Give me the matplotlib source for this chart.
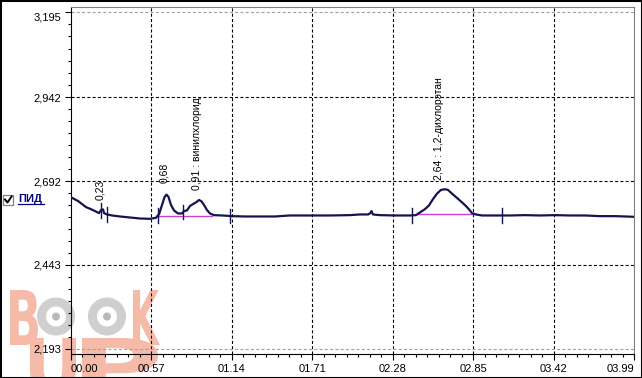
import numpy as np
import matplotlib
matplotlib.use("Agg")
import matplotlib.pyplot as plt
from matplotlib.patches import Rectangle, Circle, Wedge, PathPatch
from matplotlib.lines import Line2D
from matplotlib.textpath import TextPath
from matplotlib.font_manager import FontProperties
from matplotlib.transforms import Affine2D


W, H = 642, 378

# chromatogram trace (time in min.sec, detector signal)
time_min = [
    0.000, 0.050, 0.106, 0.156, 0.198, 0.213, 0.227, 0.234, 0.255, 0.291,
    0.347, 0.418, 0.489, 0.560, 0.602, 0.624, 0.645, 0.663, 0.677, 0.691,
    0.709, 0.730, 0.758, 0.787, 0.801, 0.822, 0.843, 0.865, 0.886, 0.907,
    0.925, 0.943, 0.964, 0.985, 1.013, 1.070, 1.141, 1.233, 1.339, 1.446,
    1.552, 1.694, 1.836, 1.977, 2.048, 2.105, 2.119, 2.130, 2.140, 2.190,
    2.296, 2.403, 2.445, 2.473, 2.509, 2.537, 2.566, 2.594, 2.622, 2.651,
    2.672, 2.700, 2.736, 2.771, 2.799, 2.821, 2.842, 2.870, 2.913, 3.005,
    3.111, 3.217, 3.324, 3.430, 3.536, 3.643, 3.749, 3.855, 3.926, 3.990,
]
signal = [
    2.644, 2.633, 2.615, 2.606, 2.597, 2.606, 2.608, 2.597, 2.593, 2.590,
    2.587, 2.584, 2.581, 2.580, 2.583, 2.594, 2.621, 2.645, 2.652, 2.645,
    2.621, 2.605, 2.596, 2.596, 2.603, 2.605, 2.618, 2.624, 2.629, 2.636,
    2.632, 2.621, 2.606, 2.596, 2.591, 2.590, 2.588, 2.587, 2.587, 2.587,
    2.590, 2.590, 2.590, 2.591, 2.593, 2.593, 2.596, 2.603, 2.593, 2.591,
    2.590, 2.590, 2.591, 2.599, 2.609, 2.620, 2.639, 2.655, 2.666, 2.668,
    2.666, 2.655, 2.642, 2.629, 2.618, 2.608, 2.597, 2.593, 2.590, 2.590,
    2.590, 2.591, 2.590, 2.591, 2.590, 2.590, 2.588, 2.588, 2.587, 2.586,
]

x_ticks = [0.0, 0.57, 1.14, 1.71, 2.28, 2.85, 3.42, 3.99]
x_tick_labels = ["00.00", "00.57", "01.14", "01.71", "02.28", "02.85", "03.42", "03.99"]
y_ticks = [2.193, 2.443, 2.692, 2.942, 3.195]
y_tick_labels = ["2,193", "2,443", "2,692", "2,942", "3,195"]

# integration events and peak baselines
event_times = [0.210, 0.253, 0.614, 0.796, 1.127, 2.419, 3.051]
base_t0 = [0.617, 2.459]
base_t1 = [0.999, 2.856]
base_y0 = [2.588, 2.593]
base_y1 = [2.588, 2.593]

peak_labels = ["0,23", "0,68", "0,91 : винилхлорид", "2,64 : 1,2-дихлорэтан"]
peak_label_t = [0.206, 0.661, 0.891, 2.610]
peak_label_y = [2.636, 2.686, 2.666, 2.695]

TRACE = "#141452"
plt.rcParams["font.family"] = ["Liberation Sans", "DejaVu Sans"]
plt.rcParams["lines.scale_dashes"] = False


def minor_between(ticks, n):
    return np.concatenate([np.linspace(a, b, n + 1)[1:-1] for a, b in zip(ticks[:-1], ticks[1:])])


fig = plt.figure(figsize=(W / 100, H / 100), dpi=100, facecolor="white")
pix = Affine2D().scale(1 / W, 1 / H) + fig.transFigure

ax = fig.add_axes([71 / W, 1 - 354 / H, (634 - 71) / W, (354 - 7) / H])
ax.set_facecolor("none")
ax.set_xlim(0, 3.99)
ax.set_ylim(2.178, 3.210)

# grid
for t in x_ticks[1:-1]:
    ax.axvline(t, color="black", lw=0.8, ls=(0, (2.2, 1.6)), zorder=1)
for v in y_ticks:
    edge = v in (y_ticks[0], y_ticks[-1])
    ax.axhline(v, color="#a0a0a0" if edge else "black", lw=0.8,
               ls=(0, (2.2, 1.6)), zorder=1)

ax.plot(time_min, signal, color=TRACE, lw=1.6, solid_joinstyle="round", zorder=3)
for t0, t1, y0, y1 in zip(base_t0, base_t1, base_y0, base_y1):
    ax.plot([t0, t1], [y0, y1], color="#d040d0", lw=1.0, zorder=2)
for t in event_times:
    yc = np.interp(t, time_min, signal)
    ax.plot([t, t], [yc - 0.022, yc + 0.022], color=TRACE, lw=1.0, zorder=4)

for s, t, y in zip(peak_labels, peak_label_t, peak_label_y):
    ax.text(t, y, s, rotation=90, ha="center", va="bottom", fontsize=7.5,
            color="black", zorder=5)

# axes frame and ticks
for side in ("top", "right"):
    ax.spines[side].set_color("#808080")
    ax.spines[side].set_linewidth(0.8)
for side in ("left", "bottom"):
    ax.spines[side].set_color("black")
    ax.spines[side].set_linewidth(0.8)

ax.set_xticks(x_ticks)
ax.set_xticklabels(x_tick_labels)
ax.set_xticks(minor_between(x_ticks, 7), minor=True)
ax.set_yticks(y_ticks)
ax.set_yticklabels(y_tick_labels)
ax.set_yticks(minor_between(y_ticks, 7), minor=True)
ax.tick_params(axis="both", which="major", labelsize=8, width=0.8, direction="out")
ax.tick_params(axis="x", which="major", length=4.5, pad=3)
ax.tick_params(axis="y", which="major", length=4, pad=3)
ax.tick_params(axis="both", which="minor", length=2.4, width=0.8)
ax.xaxis.get_major_ticks()[0].label1.set_ha("left")
ax.xaxis.get_major_ticks()[-1].label1.set_ha("right")
ax.yaxis.get_major_ticks()[-1].label1.set_va("top")

# detector checkbox label
fig.add_artist(Rectangle((3, H - 204.5), 10, 10, transform=pix, fc="white",
                         ec="#808080", lw=0.9))
fig.add_artist(Line2D([5, 7.5, 11.5], [H - 199.5, H - 202.5, H - 196.5],
                      transform=pix, color="black", lw=1.4))
fig.text(18 / W, 1 - 198.5 / H, "ПИД", fontsize=8, weight="bold",
         color="#000080", ha="left", va="center")
fig.add_artist(Line2D([18, 43.5], [H - 204, H - 204], transform=pix,
                      color="#000080", lw=0.9))

# watermark


def glyph(s, x0, y0, x1, y1, color):
    tp = TextPath((0, 0), s, size=1, prop=FontProperties(family="DejaVu Sans", weight="bold"))
    ext = tp.get_extents()
    tr = (Affine2D().translate(-ext.x0, -ext.y0)
          .scale((x1 - x0) / ext.width, (y1 - y0) / ext.height)
          .translate(x0, H - y1) + pix)
    fig.add_artist(PathPatch(tp, transform=tr, fc=color, ec="none", zorder=-1))


SALMON = "#f6bba8"
glyph("B", 10, 290, 38, 345, SALMON)
glyph("K", 133, 290, 160, 345, SALMON)
glyph("U", 30, 338, 76, 392, SALMON)
glyph("P", 82, 338, 158, 392, SALMON)
for cx in (56, 107):
    fig.add_artist(Wedge((cx, H - 316.5), 19, 0, 360, width=9, transform=pix,
                         fc="#cfcfcf", ec="none", zorder=-1))
    fig.add_artist(Circle((cx, H - 316.5), 4, transform=pix, fc="#b8b8b8",
                          ec="none", zorder=-1))

fig.add_artist(Rectangle((0, 0), W, H, transform=pix, fill=False, ec="black", lw=2.2))

fig.savefig("out.png", dpi=100, facecolor="white")
